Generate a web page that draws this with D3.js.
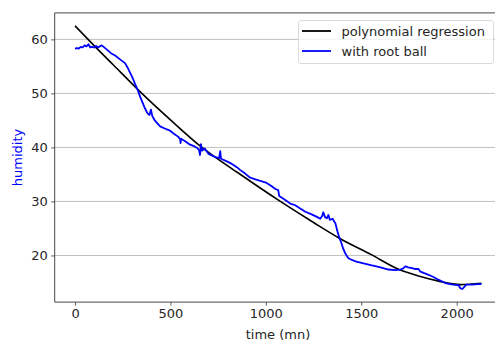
<!DOCTYPE html>
<html>
<head>
<meta charset="utf-8">
<script src="https://cdn.jsdelivr.net/npm/d3@7"></script>
<style>
  html, body { margin: 0; padding: 0; background: #fff; }
  svg { display: block; font-family: "DejaVu Sans", sans-serif; }
</style>
</head>
<body>
<svg id="chart" width="495" height="345"></svg>
<script>
// ---- data ----
const regX = [0, 100, 200, 350, 500, 665, 850, 1076, 1250, 1390, 1550, 1705, 1800, 1900, 2020, 2130];
const regY = [62.5, 58.85, 55.3, 50.0, 45.1, 40.0, 35.4, 30.0, 26.1, 23.1, 20.2, 17.3, 16.2, 15.3, 14.6, 14.85];

const ballX = [0, 10, 20, 30, 40, 50, 60, 70, 80, 90, 100, 110, 120, 130, 140, 150, 170, 190, 210, 236, 262, 275, 289, 300, 315, 330, 341, 355, 367, 380, 390, 398, 405, 420, 446, 470, 498, 520, 540, 551, 553, 556, 575, 603, 620, 640, 650, 655, 660, 665, 680, 700, 730, 755, 761, 765, 790, 820, 850, 866, 890, 918, 945, 971, 1000, 1023, 1050, 1065, 1070, 1100, 1128, 1154, 1180, 1207, 1240, 1270, 1285, 1295, 1301, 1310, 1320, 1328, 1335, 1350, 1358, 1364, 1375, 1385, 1395, 1405, 1416, 1430, 1443, 1470, 1506, 1550, 1590, 1620, 1642, 1680, 1705, 1720, 1731, 1745, 1760, 1780, 1800, 1810, 1840, 1873, 1900, 1941, 1980, 2010, 2020, 2030, 2040, 2050, 2080, 2115, 2130];
const ballY = [58.3, 58.4, 58.3, 58.6, 58.5, 58.9, 58.7, 59.1, 58.5, 58.6, 58.5, 58.8, 58.5, 58.7, 58.9, 58.6, 58.0, 57.4, 57.0, 56.3, 55.6, 54.8, 53.8, 53.0, 51.7, 50.5, 49.4, 48.2, 47.2, 46.3, 46.0, 47.0, 45.8, 44.9, 43.9, 43.5, 43.1, 42.5, 42.0, 41.5, 40.8, 41.6, 41.2, 40.5, 40.3, 39.9, 39.5, 38.6, 40.6, 39.4, 39.8, 38.8, 38.3, 38.0, 39.3, 37.9, 37.5, 37.0, 36.3, 35.8, 35.2, 34.4, 34.1, 33.8, 33.5, 33.0, 32.3, 32.1, 31.0, 30.3, 29.6, 29.3, 28.7, 28.1, 27.6, 27.1, 26.8, 27.3, 28.0, 27.1, 26.9, 27.5, 26.6, 26.8, 26.3, 26.0, 24.5, 23.3, 22.4, 21.3, 20.4, 19.6, 19.3, 18.9, 18.6, 18.2, 17.9, 17.6, 17.4, 17.3, 17.4, 17.6, 18.0, 17.8, 17.7, 17.5, 17.5, 17.0, 16.6, 16.1, 15.6, 14.9, 14.6, 14.5, 13.9, 13.8, 14.2, 14.6, 14.6, 14.7, 14.7];

const xTicks = [0, 500, 1000, 1500, 2000];
const yTicks = [20, 30, 40, 50, 60];
const seriesNames = ["polynomial regression", "with root ball"];
const seriesColors = ["#000000", "#0000ff"];

// ---- layout ----
const FS = 13;
const svg = d3.select("#chart");
const pL = 54.7, pR = 501.8, pT = 12.9, pB = 302.1;
const x = d3.scaleLinear().domain([-106.5, 2236.5]).range([pL, pR]);
const y = d3.scaleLinear().domain([11.37, 64.9]).range([pB, pT]);

// grid
svg.append("g").selectAll("line").data(yTicks).join("line")
  .attr("x1", pL).attr("x2", pR)
  .attr("y1", d => y(d)).attr("y2", d => y(d))
  .attr("stroke", "#b0b0b0").attr("stroke-width", 0.8);

// clip
svg.append("clipPath").attr("id", "clip").append("rect")
  .attr("x", pL).attr("y", pT).attr("width", pR - pL).attr("height", pB - pT);

const regData = regX.map((v, i) => [v, regY[i]]);
const ballData = ballX.map((v, i) => [v, ballY[i]]);

svg.append("path")
  .attr("d", d3.line().x(d => x(d[0])).y(d => y(d[1])).curve(d3.curveMonotoneX)(regData))
  .attr("fill", "none").attr("stroke", seriesColors[0]).attr("stroke-width", 1.6)
  .attr("clip-path", "url(#clip)");

svg.append("path")
  .attr("d", d3.line().x(d => x(d[0])).y(d => y(d[1]))(ballData))
  .attr("fill", "none").attr("stroke", seriesColors[1]).attr("stroke-width", 1.8)
  .attr("stroke-linejoin", "round")
  .attr("clip-path", "url(#clip)");

// axes
const xAxis = svg.append("g").attr("transform", `translate(0,${pB})`)
  .call(d3.axisBottom(x).tickValues(xTicks).tickFormat(d3.format("d")).tickSizeOuter(0).tickSize(3.5).tickPadding(3.5));
const yAxis = svg.append("g").attr("transform", `translate(${pL},0)`)
  .call(d3.axisLeft(y).tickValues(yTicks).tickFormat(d3.format("d")).tickSizeOuter(0).tickSize(3.5).tickPadding(3.5));
[xAxis, yAxis].forEach(g => {
  g.select(".domain").remove();
  g.selectAll("line").attr("stroke", "#333").attr("stroke-width", 0.8);
  g.selectAll("text").attr("font-family", "DejaVu Sans").attr("font-size", FS).attr("fill", "#262626");
});

// spines
const spine = (x1, y1, x2, y2) => svg.append("line")
  .attr("x1", x1).attr("y1", y1).attr("x2", x2).attr("y2", y2)
  .attr("stroke", "#333").attr("stroke-width", 0.9);
spine(pL, pT, pL, pB);
spine(pL, pB, pR, pB);
spine(pL, pT, pR, pT);
spine(pR, pT, pR, pB);

// axis labels
svg.append("text").attr("x", 278).attr("y", 339)
  .attr("text-anchor", "middle").attr("font-size", FS).attr("fill", "#262626")
  .text("time (mn)");
svg.append("text").attr("transform", `translate(21.5,${(pT + pB) / 2}) rotate(-90)`)
  .attr("text-anchor", "middle").attr("font-size", FS).attr("fill", "#0000ff")
  .text("humidity");

// legend
const lg = svg.append("g");
lg.append("rect").attr("x", 298.5).attr("y", 20.5).attr("width", 195).attr("height", 43)
  .attr("rx", 2).attr("fill", "#fff").attr("fill-opacity", 0.8)
  .attr("stroke", "#d0d0d0").attr("stroke-width", 0.8);
seriesNames.forEach((name, i) => {
  const cy = 31 + i * 20;
  lg.append("line").attr("x1", 302).attr("x2", 331).attr("y1", cy).attr("y2", cy)
    .attr("stroke", seriesColors[i]).attr("stroke-width", 1.8);
  lg.append("text").attr("x", 341.5).attr("y", cy + 4.6).attr("font-size", FS)
    .attr("fill", "#262626").text(name);
});
</script>
</body>
</html>
